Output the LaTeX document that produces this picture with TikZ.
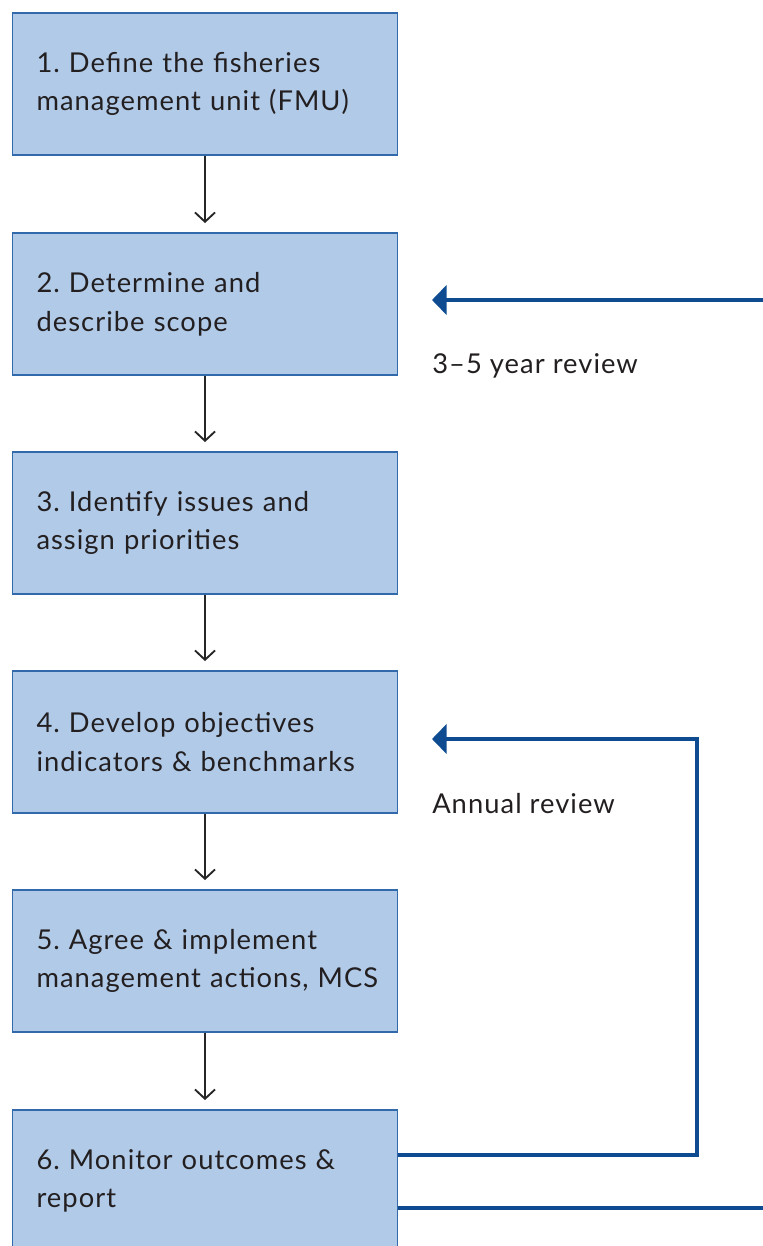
\documentclass[tikz,border=0pt]{standalone}
\usepackage{fontspec}
\setmainfont{Lato}[LetterSpace=3.8]
\usetikzlibrary{arrows.meta}
\definecolor{boxfill}{RGB}{176,202,232}
\definecolor{boxline}{RGB}{50,105,170}
\definecolor{loopblue}{RGB}{14,75,145}
\definecolor{txt}{RGB}{35,31,32}
\frenchspacing
\hbadness=10000 \hfuzz=100pt
\tikzset{
  stepbox/.style={draw=boxline, line width=0.9pt, fill=boxfill, rectangle,
    minimum width=288.75pt, minimum height=106.5pt, text width=252.75pt,
    align=left, inner xsep=18pt, font=\fontsize{20.5}{29}\selectfont, text=txt},
  flow/.style={draw=black!85, line width=1.4pt, -{Straight Barb[length=7pt,width=15pt,line width=1.4pt]}},
  loop/.style={draw=loopblue, line width=3.2pt},
  looparrow/.style={loop, -{Triangle[length=11pt,width=22pt]}},
  lbl/.style={anchor=west, inner sep=0pt, font=\fontsize{20.5}{23}\selectfont, text=txt}
}
\begin{document}
\begin{tikzpicture}[x=0.75pt,y=-0.75pt]
\useasboundingbox (0,0) rectangle (763,1246);
\begin{scope}
\clip (0,0) rectangle (763,1246);
\node[stepbox] (b1) at (205,84) {1. Define the fisheries\\management unit (FMU)};
\node[stepbox] (b2) at (205,304) {2. Determine and\\describe scope};
\node[stepbox] (b3) at (205,523) {3. Identify issues and\\assign priorities};
\node[stepbox] (b4) at (205,742) {4. Develop objectives\\indicators \& benchmarks};
\node[stepbox] (b5) at (205,961) {5. Agree \& implement\\\mbox{management actions, MCS}};
\node[stepbox] (b6) at (205,1181) {6. Monitor outcomes \&\\report};
\end{scope}
\draw[flow] (b1.south) -- ([yshift=7pt]b2.north);
\draw[flow] (b2.south) -- ([yshift=7pt]b3.north);
\draw[flow] (b3.south) -- ([yshift=7pt]b4.north);
\draw[flow] (b4.south) -- ([yshift=7pt]b5.north);
\draw[flow] (b5.south) -- ([yshift=7pt]b6.north);
\coordinate (r1) at (763,300);
\coordinate (t1) at (432,300);
\coordinate (r2) at (763,1208);
\coordinate (c1) at (697,1155);
\coordinate (t2) at (432,739);
\draw[looparrow] (r1) -- (t1);
\draw[loop] (b6.east |- r2) -- (r2);
\draw[looparrow] (b6.east |- c1) -- (c1) |- (t2);
\node[lbl] (l1) at (432,366) {3–5 year review};
\node[lbl] (l2) at (432,804) {Annual review};
\end{tikzpicture}
\end{document}
